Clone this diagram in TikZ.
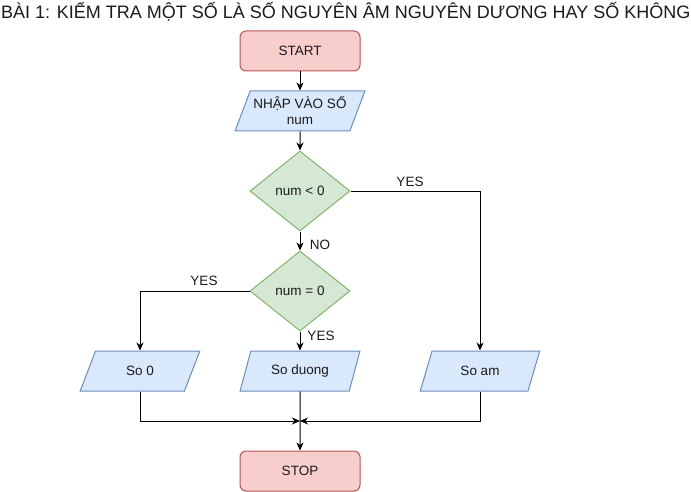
\documentclass[tikz,border=0pt]{standalone}
\usepackage{fontspec}
\setmainfont{Liberation Sans}
\usetikzlibrary{shapes.geometric,arrows.meta}
\definecolor{redfill}{HTML}{F8CECC}
\definecolor{redline}{HTML}{B85450}
\definecolor{bluefill}{HTML}{DAE8FC}
\definecolor{blueline}{HTML}{6C8EBF}
\definecolor{greenfill}{HTML}{D5E8D4}
\definecolor{greenline}{HTML}{82B366}
\definecolor{txt}{HTML}{1A1A1A}
\begin{document}
\begin{tikzpicture}[x=1pt,y=-1pt,
  every node/.style={font=\fontsize{13.5}{16}\selectfont,text=txt},
  term/.style={draw=redline,fill=redfill,rounded corners=6pt,minimum width=120pt,minimum height=40pt,inner sep=0pt,line width=1pt},
  iobox/.style={trapezium,trapezium left angle=63.435,trapezium right angle=116.565,trapezium stretches=true,draw=blueline,fill=bluefill,minimum width=130pt,minimum height=40pt,inner sep=0pt,line width=1pt,align=center},
  iobsmall/.style={iobox,minimum width=120pt},
  decide/.style={diamond,draw=greenline,fill=greenfill,minimum width=100pt,minimum height=80pt,inner sep=0pt,line width=1pt,aspect=1.25},
  flow/.style={line width=1pt,-{Stealth[length=8pt,width=7pt,inset=2.5pt]}},
  lbl/.style={inner sep=0pt}]
\useasboundingbox (0,0) rectangle (691,492);
\node[lbl,anchor=west,font=\fontsize{18}{20}\selectfont] (title) at (1,12) {BÀI 1: KIỂM TRA MỘT SỐ LÀ SỐ NGUYÊN ÂM NGUYÊN DƯƠNG HAY SỐ KHÔNG};
\node[term] (start) at (300,51) {START};
\node[iobox] (inp) at (300,111) {NHẬP VÀO SỐ\\num};
\node[decide] (d1) at (300,191) {num < 0};
\node[decide] (d2) at (300,291) {num = 0};
\node[iobsmall] (so0) at (140,371) {So 0};
\node[iobsmall] (sod) at (300,371) {So duong};
\node[iobsmall] (soam) at (480,371) {So am};
\node[term] (stop) at (300,471) {STOP};
\coordinate (m) at (300,421);
\draw[flow] (start) -- (inp);
\draw[flow] (inp) -- (d1);
\draw[flow] (d1) -- (d2);
\draw[flow] (d1.east) -| (soam);
\draw[flow] (d2.west) -| (so0);
\draw[flow] (d2) -- (sod);
\draw[flow] (so0) |- (m);
\draw[flow] (soam) |- (m);
\draw[flow] (sod) -- (stop);
\node[lbl] (l1) at (410,182) {YES};
\node[lbl] (l2) at (320,245) {NO};
\node[lbl] (l3) at (204,281) {YES};
\node[lbl] (l4) at (321,336) {YES};
\end{tikzpicture}
\end{document}
